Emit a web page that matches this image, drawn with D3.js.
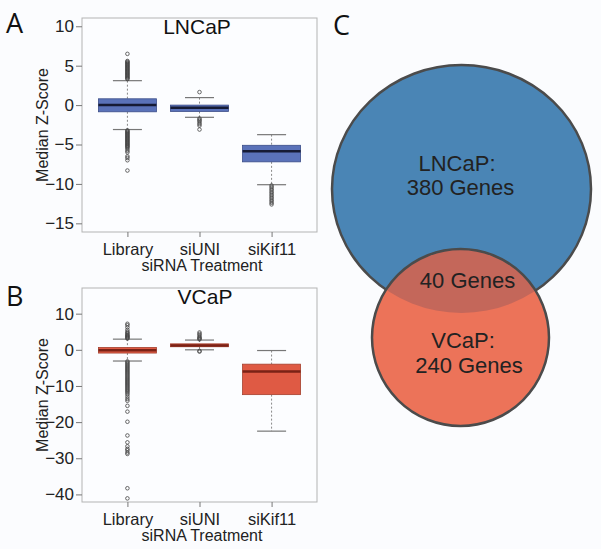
<!DOCTYPE html>
<html><head><meta charset="utf-8">
<script src="https://cdn.jsdelivr.net/npm/d3@7/dist/d3.min.js"></script>
<style>body{margin:0;background:#fbfcfe;}svg{display:block;font-family:"Liberation Sans",Arial,sans-serif;}</style>
</head><body>
<script>
const categories = ["Library", "siUNI", "siKif11"];

// LNCaP box statistics
const lncapQ1 = [-0.85, -0.8, -7.2];
const lncapMedian = [0, -0.35, -5.85];
const lncapQ3 = [0.8, 0, -5.1];
const lncapLow = [-3.1, -1.55, -10.1];
const lncapHigh = [3.1, 0.95, -3.75];
const lncapOutliers = [
  [3.3,3.4,3.5,3.6,3.7,3.8,3.9,4.0,4.1,4.2,4.3,4.4,4.5,4.6,4.7,4.8,4.9,5.0,5.1,5.2,5.3,5.4,5.5,5.6,6.5,
   -3.2,-3.3,-3.4,-3.5,-3.6,-3.7,-3.8,-3.9,-4.0,-4.1,-4.2,-4.3,-4.4,-4.5,-4.6,-4.7,-4.8,-4.9,-5.0,-5.1,-5.2,-5.3,-5.4,-5.6,-5.8,-6.0,-6.5,-6.7,-7.0,-8.3],
  [1.65,-1.7,-1.85,-2.0,-2.2,-2.4,-2.6,-3.1],
  [-10.2,-10.4,-10.6,-10.8,-11.0,-11.2,-11.4,-11.6,-11.8,-12.0,-12.2,-12.4,-12.6]
];

// VCaP box statistics
const vcapQ1 = [-0.9, 0.85, -12.4];
const vcapMedian = [-0.1, 1.2, -6.0];
const vcapQ3 = [0.65, 1.65, -3.97];
const vcapLow = [-3.1, 0, -22.5];
const vcapHigh = [2.95, 2.7, -0.2];
const vcapOutliers = [
  [3.1,3.3,3.5,3.7,3.9,4.1,4.4,4.7,5.0,5.5,6.2,6.8,7.2,
   -3.2,-3.5,-3.8,-4.1,-4.4,-4.7,-5.0,-5.3,-5.6,-5.9,-6.2,-6.5,-6.8,-7.1,-7.4,-7.7,-8.0,-8.3,-8.6,-8.9,-9.2,-9.5,-9.8,
   -10.1,-10.4,-10.7,-11.0,-11.3,-11.6,-12.0,-12.4,-13.0,-13.6,-14.1,-15.5,-17.1,-19.9,-23.7,-25.6,-26.7,-27.4,-27.8,-28.4,-28.8,-38.3,-41.1],
  [2.9,3.1,3.3,3.6,4.0,4.4,4.8,-0.3,-0.5],
  []
];

const lncapTicks = [10, 5, 0, -5, -10, -15];
const vcapTicks = [10, 0, -10, -20, -30, -40];

// Venn data
const vennSets = ["LNCaP", "VCaP"];
const vennCounts = [380, 240];
const vennOverlap = 40;

const svg = d3.select("body").append("svg").attr("width", 601).attr("height", 549);
const FF = "Liberation Sans, Arial, sans-serif";

function boxPanel(cfg) {
  const g = svg.append("g");
  const x = d3.scalePoint().domain(categories).range([82, 317]).padding(0.63);
  const y = d3.scaleLinear().domain(cfg.domain).range([cfg.bottom, cfg.top]);
  g.append("rect").attr("x", 82).attr("y", cfg.top).attr("width", 235).attr("height", cfg.bottom - cfg.top)
    .attr("fill", "#fcfdff").attr("stroke", "#b3b3b3").attr("stroke-width", 1);
  const ya = d3.axisLeft(y).tickValues(cfg.ticks).tickSize(6).tickPadding(2).tickFormat(d3.format("d"));
  const yg = g.append("g").attr("transform", "translate(82,0)").call(ya);
  yg.attr("font-family", FF).attr("font-size", 17);
  yg.select(".domain").remove();
  yg.selectAll("line").attr("stroke", "#777");
  yg.selectAll("text").attr("fill", "#222");
  const xa = d3.axisBottom(x).tickSize(5).tickPadding(6);
  const xg = g.append("g").attr("transform", `translate(0,${cfg.bottom})`).call(xa);
  xg.attr("font-family", FF).attr("font-size", 16.5);
  xg.select(".domain").remove();
  xg.selectAll("line").attr("stroke", "#777");
  xg.selectAll("text").attr("fill", "#222");
  const bw = 58, cw = 29;
  categories.forEach((c, i) => {
    const cx = x(c);
    g.append("line").attr("x1", cx).attr("x2", cx).attr("y1", y(cfg.high[i])).attr("y2", y(cfg.q3[i]))
      .attr("stroke", "#888").attr("stroke-dasharray", "2,2");
    g.append("line").attr("x1", cx).attr("x2", cx).attr("y1", y(cfg.q1[i])).attr("y2", y(cfg.low[i]))
      .attr("stroke", "#888").attr("stroke-dasharray", "2,2");
    [cfg.high[i], cfg.low[i]].forEach(v => {
      g.append("line").attr("x1", cx - cw / 2).attr("x2", cx + cw / 2).attr("y1", y(v)).attr("y2", y(v))
        .attr("stroke", "#777").attr("stroke-width", 1.2);
    });
    g.append("rect").attr("x", cx - bw / 2).attr("width", bw).attr("y", y(cfg.q3[i]))
      .attr("height", Math.max(1, y(cfg.q1[i]) - y(cfg.q3[i])))
      .attr("fill", cfg.fill).attr("stroke", cfg.stroke).attr("stroke-width", 0.8);
    g.append("line").attr("x1", cx - bw / 2).attr("x2", cx + bw / 2).attr("y1", y(cfg.median[i])).attr("y2", y(cfg.median[i]))
      .attr("stroke", cfg.medColor).attr("stroke-width", 2.5);
    g.selectAll(null).data(cfg.outliers[i]).enter().append("circle")
      .attr("cx", cx).attr("cy", d => y(d)).attr("r", 1.8)
      .attr("fill", "none").attr("stroke", "#444").attr("stroke-width", 0.8);
  });
  g.append("text").attr("x", cfg.titleX).attr("y", cfg.top + 15.5).attr("text-anchor", "middle")
    .attr("font-size", 21).attr("fill", "#111").text(cfg.title);
  g.append("text").attr("transform", `translate(48,${(cfg.top + cfg.bottom) / 2}) rotate(-90)`)
    .attr("text-anchor", "middle").attr("font-size", 16).attr("fill", "#222").text("Median Z-Score");
  g.append("text").attr("x", 202).attr("y", cfg.bottom + 39).attr("text-anchor", "middle")
    .attr("font-size", 16).attr("fill", "#222").text("siRNA Treatment");
  g.append("text").attr("x", 6).attr("y", cfg.letterY).attr("font-size", 27)
    .attr("font-family", "Open Sans, sans-serif").attr("fill", "#111").text(cfg.letter);
}

boxPanel({top: 18, bottom: 232, domain: [-16.1, 11.05], ticks: lncapTicks,
  q1: lncapQ1, median: lncapMedian, q3: lncapQ3, low: lncapLow, high: lncapHigh, outliers: lncapOutliers,
  fill: "#5a72b9", stroke: "#3b4d88", medColor: "#161b35", title: "LNCaP", titleX: 197, letter: "A", letterY: 33});
boxPanel({top: 288, bottom: 502, domain: [-42.1, 17.1], ticks: vcapTicks,
  q1: vcapQ1, median: vcapMedian, q3: vcapQ3, low: vcapLow, high: vcapHigh, outliers: vcapOutliers,
  fill: "#df5a44", stroke: "#a5412f", medColor: "#7a2216", title: "VCaP", titleX: 205, letter: "B", letterY: 306});

// Venn diagram
const vg = svg.append("g");
const big = {cx: 461.5, cy: 189, rx: 129.5, ry: 124};
const small = {cx: 460.5, cy: 337.5, r: 88.5};
const defs = svg.append("defs");
defs.append("clipPath").attr("id", "bigclip").append("ellipse")
  .attr("cx", big.cx).attr("cy", big.cy).attr("rx", big.rx).attr("ry", big.ry);
vg.append("ellipse").attr("cx", big.cx).attr("cy", big.cy).attr("rx", big.rx).attr("ry", big.ry)
  .attr("fill", "#4a85b5").attr("stroke", "#4b4b4b").attr("stroke-width", 2.5);
vg.append("circle").attr("cx", small.cx).attr("cy", small.cy).attr("r", small.r).attr("fill", "#ec7359");
vg.append("circle").attr("cx", small.cx).attr("cy", small.cy).attr("r", small.r).attr("fill", "#c4675a")
  .attr("clip-path", "url(#bigclip)");
vg.append("circle").attr("cx", small.cx).attr("cy", small.cy).attr("r", small.r)
  .attr("fill", "none").attr("stroke", "#4b4b4b").attr("stroke-width", 2.5);

const vt = [
  {t: vennSets[0] + ":", x: 457, y: 170.5},
  {t: vennCounts[0] + " Genes", x: 460.5, y: 194.5},
  {t: vennOverlap + " Genes", x: 467.5, y: 287.5},
  {t: vennSets[1] + ":", x: 463, y: 348},
  {t: vennCounts[1] + " Genes", x: 469, y: 372.5}
];
vg.selectAll(null).data(vt).enter().append("text")
  .attr("x", d => d.x).attr("y", d => d.y).attr("text-anchor", "middle")
  .attr("font-size", 22).attr("fill", "#222").text(d => d.t);
svg.append("text").attr("x", 333).attr("y", 35).attr("font-size", 27)
  .attr("font-family", "Open Sans, sans-serif").attr("fill", "#111").text("C");
</script>
</body></html>
